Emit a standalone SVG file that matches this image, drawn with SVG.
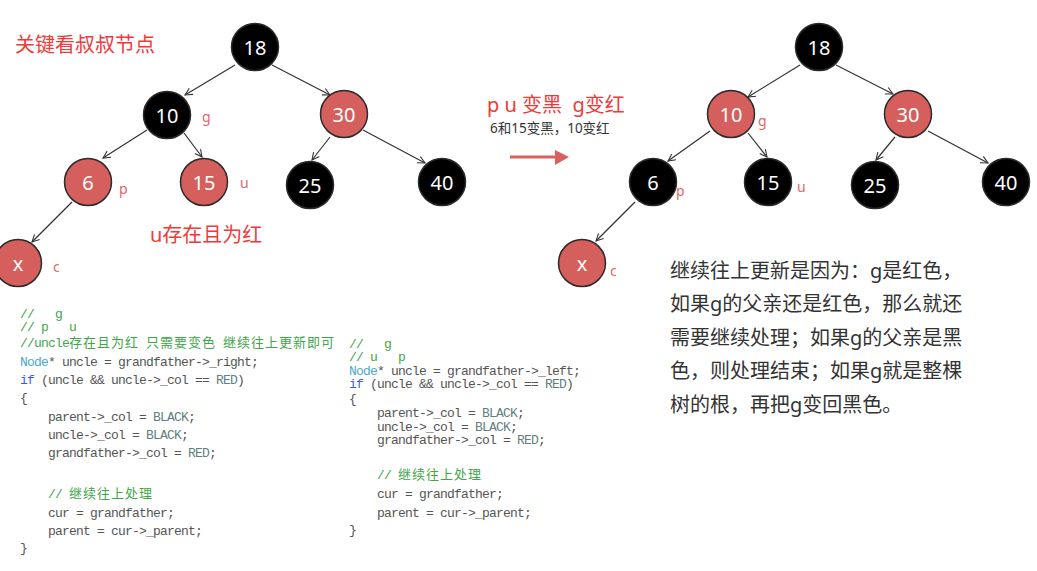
<svg xmlns="http://www.w3.org/2000/svg" width="1037" height="571" viewBox="0 0 1037 571">
<defs>
<marker id="arr" viewBox="0 0 10 10" refX="9" refY="5" markerWidth="9" markerHeight="9" markerUnits="userSpaceOnUse" orient="auto">
<path d="M1,1 L9,5 L1,9" fill="none" stroke="#333" stroke-width="1.2"/>
</marker>
</defs>
<style>
.r{fill:#d45f5c;stroke:#2a2a2a;stroke-width:1.5}
.b{fill:#000;stroke:#2a2a2a;stroke-width:1.5}
.n{font-family:"Noto Sans","Open Sans",sans-serif;font-size:20px;fill:#fff;text-anchor:middle;dominant-baseline:central}
.lb{font-family:"Noto Sans",sans-serif;font-size:14px;fill:#e06868}
.e{stroke:#333;stroke-width:1.2;fill:none;marker-end:url(#arr)}
.t{font-family:"Noto Sans","Noto Sans CJK SC",sans-serif;font-size:20px;fill:#f03a3a;white-space:pre}
.p{font-family:"Noto Sans","Noto Sans CJK SC",sans-serif;font-size:20px;fill:#333}
.c{font-family:"Liberation Mono","Noto Sans CJK SC",monospace;font-size:13px;letter-spacing:-0.8px;fill:#555;white-space:pre}
.z{letter-spacing:1px}
.cm{fill:#3fa64a}
.ty{fill:#4aa8c8}
.kw{fill:#3b5bdb}
.cn{fill:#5f7f80}
</style>
<rect width="1037" height="571" fill="#fff"/>
<g id="connectors">
<line class="e" x1="235" y1="65" x2="185" y2="95"/>
<line class="e" x1="272" y1="65" x2="330" y2="95"/>
<line class="e" x1="147" y1="130" x2="103" y2="158"/>
<line class="e" x1="184" y1="133" x2="202" y2="157"/>
<line class="e" x1="330" y1="137" x2="312" y2="160"/>
<line class="e" x1="363" y1="130" x2="425" y2="163"/>
<line class="e" x1="72" y1="202" x2="32" y2="242"/>
<line class="e" x1="800" y1="65" x2="748" y2="97"/>
<line class="e" x1="836" y1="65" x2="893" y2="94"/>
<line class="e" x1="710" y1="131" x2="668" y2="161"/>
<line class="e" x1="748" y1="133" x2="767" y2="157"/>
<line class="e" x1="895" y1="137" x2="876" y2="160"/>
<line class="e" x1="928" y1="131" x2="988" y2="163"/>
<line class="e" x1="635" y1="202" x2="596" y2="241"/>
</g>
<g id="L18"><circle class="b" cx="255" cy="47" r="23.5"/><text class="n" x="255" y="47">18</text></g>
<g id="L10"><circle class="b" cx="167" cy="115" r="23.5"/><text class="n" x="167" y="115">10</text></g>
<g id="L30"><circle class="r" cx="344" cy="114" r="23.5"/><text class="n" x="344" y="114">30</text></g>
<g id="L6"><circle class="r" cx="88" cy="182" r="23.5"/><text class="n" x="88" y="182">6</text></g>
<g id="L15"><circle class="r" cx="204" cy="182" r="23.5"/><text class="n" x="204" y="182">15</text></g>
<g id="L25"><circle class="b" cx="310" cy="185" r="23.5"/><text class="n" x="310" y="185">25</text></g>
<g id="L40"><circle class="b" cx="442" cy="182" r="23.5"/><text class="n" x="442" y="182">40</text></g>
<g id="Lx"><circle class="r" cx="18" cy="263" r="23.5"/><text class="n" x="18" y="263">x</text></g>
<g id="Llabels">
<text class="lb" x="202" y="122">g</text>
<text class="lb" x="119" y="194">p</text>
<text class="lb" x="240" y="188">u</text>
<text class="lb" x="53" y="272">c</text>
</g>
<g id="R18"><circle class="b" cx="819" cy="47" r="23.5"/><text class="n" x="819" y="47">18</text></g>
<g id="R10"><circle class="r" cx="731" cy="114" r="23.5"/><text class="n" x="731" y="114">10</text></g>
<g id="R30"><circle class="r" cx="908" cy="114" r="23.5"/><text class="n" x="908" y="114">30</text></g>
<g id="R6"><circle class="b" cx="653" cy="182" r="23.5"/><text class="n" x="653" y="182">6</text></g>
<g id="R15"><circle class="b" cx="768" cy="182" r="23.5"/><text class="n" x="768" y="182">15</text></g>
<g id="R25"><circle class="b" cx="875" cy="185" r="23.5"/><text class="n" x="875" y="185">25</text></g>
<g id="R40"><circle class="b" cx="1006" cy="182" r="23.5"/><text class="n" x="1006" y="182">40</text></g>
<g id="Rx"><circle class="r" cx="582" cy="263" r="23.5"/><text class="n" x="582" y="263">x</text></g>
<g id="Rlabels">
<text class="lb" x="758" y="126">g</text>
<text class="lb" x="676" y="196">p</text>
<text class="lb" x="797" y="192">u</text>
<text class="lb" x="610" y="276">c</text>
</g>
<g id="titles">
<text class="t" x="15" y="52">关键看叔叔节点</text>
<text class="t" x="150" y="242">u存在且为红</text>
<text class="t" x="487" y="112">p u 变黑  g变红</text>
<text x="490" y="133" style="font-family:'Noto Sans','Noto Sans CJK SC',sans-serif;font-size:13.5px;fill:#333">6和15变黑，10变红</text>
</g>
<g id="arrow">
<line x1="510" y1="157" x2="557" y2="157" stroke="#d9605e" stroke-width="3"/>
<path d="M555,150 L569,157 L555,165 Z" fill="#d9605e"/>
</g>
<g id="explain" class="p">
<text x="670" y="278">继续往上更新是因为：g是红色，</text>
<text x="670" y="311">如果g的父亲还是红色，那么就还</text>
<text x="670" y="345">需要继续处理；如果g的父亲是黑</text>
<text x="670" y="378">色，则处理结束；如果g就是整棵</text>
<text x="670" y="412">树的根，再把g变回黑色。</text>
</g>
<g id="code-left">
<text x="20" y="318" class="c cm">//   g</text>
<text x="20" y="331" class="c cm">// p   u</text>
<text x="20" y="347" class="c cm">//uncle<tspan class="z">存在且为红</tspan> <tspan class="z">只需要变色</tspan> <tspan class="z">继续往上更新即可</tspan></text>
<text x="20" y="366" class="c"><tspan class="ty">Node</tspan>* uncle = grandfather->_right;</text>
<text x="20" y="384" class="c"><tspan class="kw">if</tspan> (uncle &amp;&amp; uncle->_col == <tspan class="cn">RED</tspan>)</text>
<text x="20" y="402" class="c">{</text>
<text x="48" y="421" class="c">parent->_col = <tspan class="cn">BLACK</tspan>;</text>
<text x="48" y="439" class="c">uncle->_col = <tspan class="cn">BLACK</tspan>;</text>
<text x="48" y="457" class="c">grandfather->_col = <tspan class="cn">RED</tspan>;</text>
<text x="48" y="498" class="c cm">// <tspan class="z">继续往上处理</tspan></text>
<text x="48" y="517" class="c">cur = grandfather;</text>
<text x="48" y="535" class="c">parent = cur->_parent;</text>
<text x="20" y="552" class="c">}</text>
</g>
<g id="code-right">
<text x="349" y="348" class="c cm">//   g</text>
<text x="349" y="361" class="c cm">// u   p</text>
<text x="349" y="375" class="c"><tspan class="ty">Node</tspan>* uncle = grandfather->_left;</text>
<text x="349" y="388" class="c"><tspan class="kw">if</tspan> (uncle &amp;&amp; uncle->_col == <tspan class="cn">RED</tspan>)</text>
<text x="349" y="403" class="c">{</text>
<text x="377" y="417" class="c">parent->_col = <tspan class="cn">BLACK</tspan>;</text>
<text x="377" y="431" class="c">uncle->_col = <tspan class="cn">BLACK</tspan>;</text>
<text x="377" y="444" class="c">grandfather->_col = <tspan class="cn">RED</tspan>;</text>
<text x="377" y="479" class="c cm">// <tspan class="z">继续往上处理</tspan></text>
<text x="377" y="498" class="c">cur = grandfather;</text>
<text x="377" y="517" class="c">parent = cur->_parent;</text>
<text x="349" y="534" class="c">}</text>
</g>
</svg>
